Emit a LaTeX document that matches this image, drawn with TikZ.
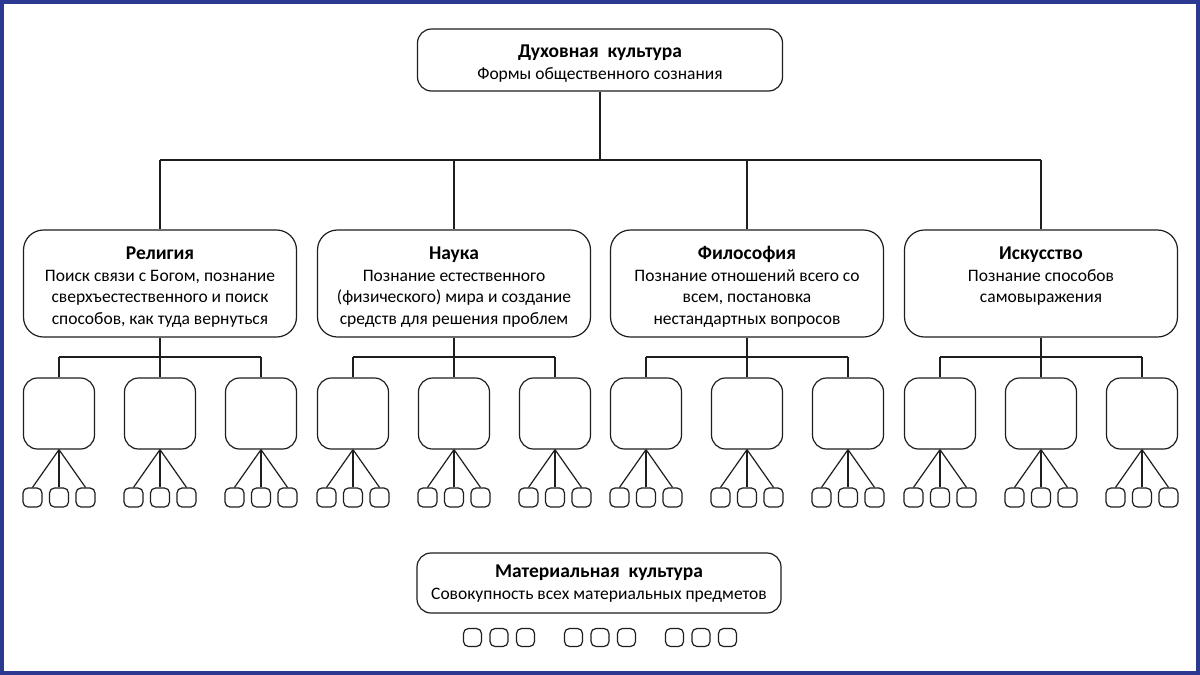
\documentclass[tikz,border=0pt]{standalone}
\usepackage{fontspec}
\setmainfont{Carlito}
\definecolor{frame}{RGB}{44,57,144}
\definecolor{ln}{RGB}{30,30,30}
\newcommand{\ttl}[1]{{\fontsize{19.5}{21.5}\selectfont\bfseries #1}}
\begin{document}
\begin{tikzpicture}[x=1pt,y=-1pt, line width=1.2pt, draw=ln,
  topbox/.style={draw=ln, rounded corners=14pt, inner sep=0pt, minimum width=365pt, minimum height=62pt},
  catbox/.style={draw=ln, rounded corners=20pt, inner sep=0pt, minimum width=273pt, minimum height=107pt},
  midbox/.style={draw=ln, rounded corners=14pt, inner sep=0pt, minimum width=71pt, minimum height=71pt},
  smbox/.style={draw=ln, rounded corners=5pt, inner sep=0pt, minimum width=19pt, minimum height=19pt},
  matbox/.style={draw=ln, rounded corners=14pt, inner sep=0pt, minimum width=364pt, minimum height=60pt},
  pbox/.style={draw=ln, rounded corners=5pt, inner sep=0pt, minimum width=18pt, minimum height=18pt},
  txt/.style={font=\fontsize{17.5}{21.5}\selectfont, align=center, anchor=north, inner sep=0pt, text=black}]
\useasboundingbox (0,0) rectangle (1200,675);
\fill[white] (0,0) rectangle (1200,675);

% top
\node[topbox] (top) at (600,60) {};
\node[txt] (toptxt) at (600,42) {\strut\ttl{Духовная~~культура}\\Формы общественного сознания};
\coordinate (tb) at (600,160);
\draw (top.south) -- (tb);

\foreach \i/\cx in {1/160,2/454,3/747,4/1041} {
  \node[catbox] (c\i) at (\cx,283.5) {};
  \foreach \j/\dx in {1/-101,2/0,3/101} {
    \node[midbox] (m\i\j) at (\cx+\dx,413.5) {};
    \foreach \k/\ex in {1/-26.5,2/0,3/26.5} {
      \node[smbox] (s\i\j\k) at (\cx+\dx+\ex,497.5) {};
      \draw (m\i\j.south) -- (s\i\j\k.north);
    }
  }
  \coordinate (b\i) at (\cx,357);
  \draw (c\i.south) -- (b\i);
  \draw (m\i1.north |- b\i) -- (m\i3.north |- b\i);
  \foreach \j in {1,2,3} {\draw (m\i\j.north |- b\i) -- (m\i\j.north);}
  \draw (c\i.north |- tb) -- (c\i.north);
}
\draw (c1.north |- tb) -- (c4.north |- tb);

\node[txt] (t1) at (160,244) {\strut\ttl{Религия}\\Поиск связи с Богом, познание\\сверхъестественного и поиск\\способов, как туда вернуться};
\node[txt] (t2) at (454,244) {\strut\ttl{Наука}\\Познание естественного\\(физического) мира и создание\\средств для решения проблем};
\node[txt] (t3) at (747,244) {\strut\ttl{Философия}\\Познание отношений всего со\\всем, постановка\\нестандартных вопросов};
\node[txt] (t4) at (1041,244) {\strut\ttl{Искусство}\\Познание способов\\самовыражения};

% material
\node[matbox] (mat) at (599,583) {};
\node[txt] (mattxt) at (599,562) {\strut\ttl{Материальная~~культура}\\Совокупность всех материальных предметов};
\foreach \g/\gx in {1/499,2/600,3/701} {
  \foreach \k/\ex in {1/-26.5,2/0,3/26.5} {
    \node[pbox] (p\g\k) at (\gx+\ex,637.5) {};
  }
}

\draw[line width=4pt, draw=frame] (2,2) rectangle (1198,673);
\end{tikzpicture}
\end{document}
